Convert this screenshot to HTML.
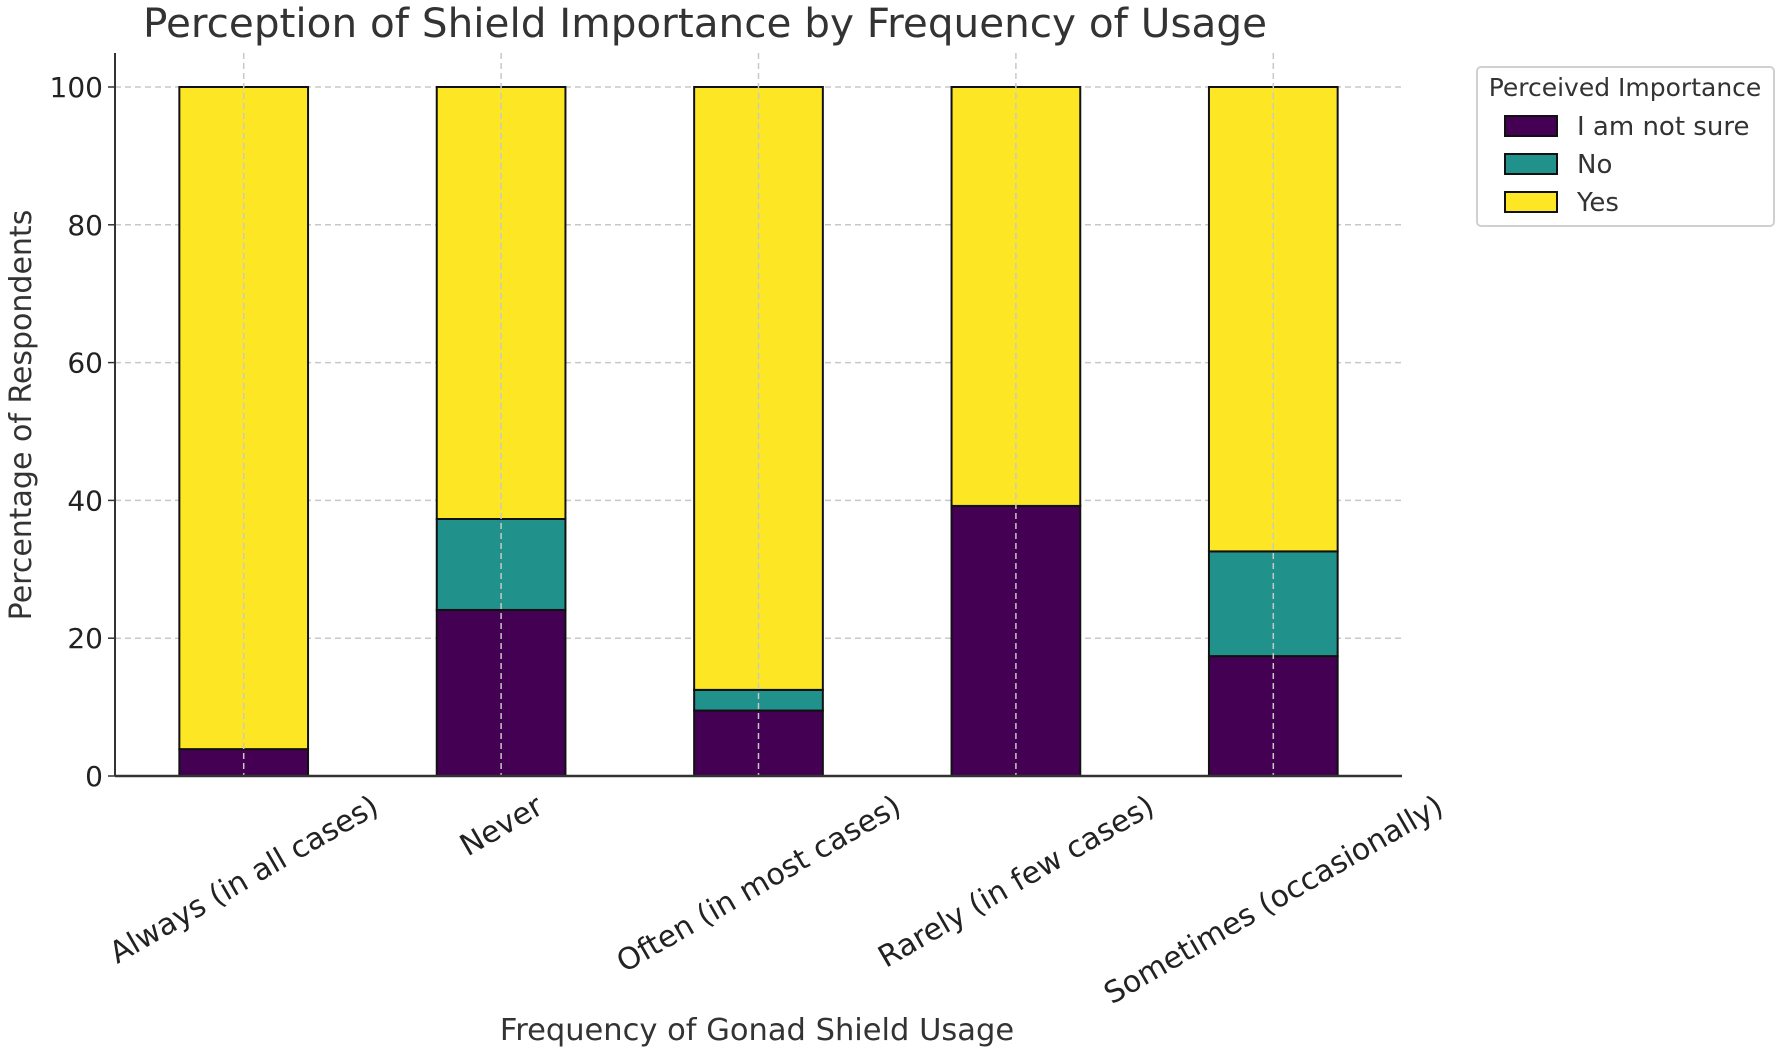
<!DOCTYPE html>
<html><head><meta charset="utf-8"><style>
body{margin:0;background:#fff;}
svg{display:block;font-family:"DejaVu Sans","Liberation Sans",sans-serif;}
</style></head><body>
<svg id="chart" width="1783" height="1053" viewBox="0 0 1783 1053">
<text x="705" y="37" font-size="40.5" fill="#333" text-anchor="middle">Perception of Shield Importance by Frequency of Usage</text>
<g id="grid"></g>
<g id="bars"></g>
<g id="axes"></g>
<text transform="translate(31,415) rotate(-90)" font-size="30" fill="#333" text-anchor="middle">Percentage of Respondents</text>
<text x="757" y="1040" font-size="30.5" fill="#333" text-anchor="middle">Frequency of Gonad Shield Usage</text>
<g id="legend"></g>
</svg>
<script>
const categories = ["Always (in all cases)","Never","Often (in most cases)","Rarely (in few cases)","Sometimes (occasionally)"];
const notSure = [3.9, 24.1, 9.5, 39.2, 17.4];
const no = [0, 13.2, 3.0, 0, 15.2];
const yes = [96.1, 62.7, 87.5, 60.8, 67.4];
const yTicks = [0, 20, 40, 60, 80, 100];
const seriesNames = ["I am not sure","No","Yes"];
const seriesColors = ["#440154","#21918c","#fde725"];

const NS = "http://www.w3.org/2000/svg";
const L = 115, R = 1402, T = 53, B = 776, Y100 = 87;
const x = i => L + (i + 0.5) * (R - L) / categories.length;
const y = v => B - v * (B - Y100) / 100;
const bw = 0.5 * (R - L) / categories.length;
function mk(tag, attrs, parent){const e=document.createElementNS(NS,tag);for(const k in attrs)e.setAttribute(k,attrs[k]);parent.appendChild(e);return e;}
const grid=document.getElementById('grid'), bars=document.getElementById('bars'), axes=document.getElementById('axes'), legend=document.getElementById('legend');

yTicks.forEach(t=>{
  const g=mk('line',{x1:L,x2:R,y1:y(t),y2:y(t),stroke:'#c8c8c8','stroke-width':1.5,'stroke-dasharray':'6,4'},grid);
  
  
  const tk=mk('line',{x1:L-7,x2:L,y1:y(t),y2:y(t),stroke:'#333','stroke-width':1.5},axes);
  
  
  const lb=mk('text',{x:L-12,y:y(t)+10,'font-size':28,fill:'#222','text-anchor':'end'},axes);
  lb.textContent=t;
  
  
});

const series=[notSure,no,yes];
categories.forEach((c,i)=>{
  let base=0;
  series.forEach((s,k)=>{
    const v=s[i];
    const r=mk('rect',{x:x(i)-bw/2,y:y(base+v),width:bw,height:Math.max(0,y(base)-y(base+v)),fill:seriesColors[k],stroke:'#111','stroke-width':2},bars);
    
    
    base+=v;
  });
  const vg=mk('line',{x1:x(i),x2:x(i),y1:T,y2:B,stroke:'#c8c8c8','stroke-width':1.5,'stroke-dasharray':'6,4'},bars);
  
  
  const lb=mk('text',{'font-size':30,fill:'#222','text-anchor':'middle'},axes);
  lb.textContent=c;
  
  
  const w=lb.getComputedTextLength(), h=30;
  const bh=w*0.5+h*0.866;
  const cy=B+14+bh/2;
  lb.setAttribute('transform',`translate(${x(i)},${cy}) rotate(-30) translate(0,${h*0.35})`);
});

const ax1=mk('line',{x1:L,x2:L,y1:T,y2:B,stroke:'#333','stroke-width':2},axes);


const ax2=mk('line',{x1:L,x2:R,y1:B,y2:B,stroke:'#333','stroke-width':2.5},axes);



const box=mk('rect',{x:1477,y:67,width:297,height:159,rx:4,fill:'#fff',stroke:'#d0d0d0','stroke-width':2},legend);


const lt=mk('text',{x:1625,y:96,'font-size':25,fill:'#333','text-anchor':'middle'},legend);
lt.textContent='Perceived Importance';


seriesNames.forEach((n,k)=>{
  const cy=126+k*38;
  const p=mk('rect',{x:1505,y:cy-10,width:52,height:20,fill:seriesColors[k],stroke:'#111','stroke-width':2},legend);
  
  
  const t=mk('text',{x:1577,y:cy+9,'font-size':26,fill:'#333'},legend);
  t.textContent=n;
  
  
});
</script>
</body></html>
